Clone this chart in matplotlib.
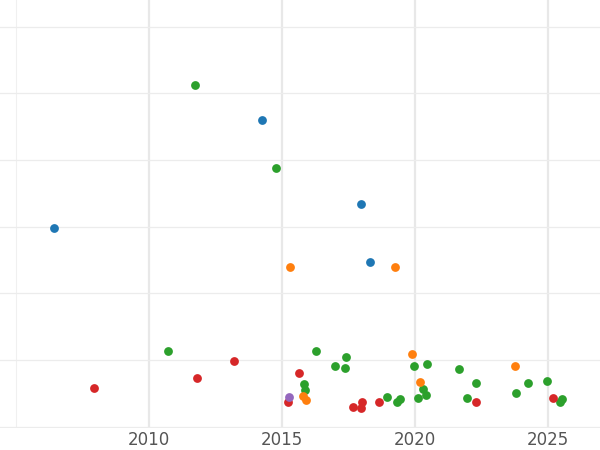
import matplotlib.pyplot as plt
from matplotlib.ticker import MultipleLocator

green_x = [2011.73, 2014.77, 2010.71, 2016.28, 2017.41, 2015.83, 2015.86, 2016.99, 2017.37, 2018.95,
           2019.32, 2019.44, 2019.96, 2020.45, 2020.30, 2020.11, 2020.41, 2021.65, 2022.29, 2021.95,
           2023.80, 2024.25, 2024.96, 2025.53, 2025.45]
green_y = [5.13, 3.88, 1.14, 1.14, 1.05, 0.64, 0.55, 0.91, 0.88, 0.45,
           0.37, 0.42, 0.91, 0.94, 0.57, 0.43, 0.48, 0.87, 0.66, 0.43,
           0.51, 0.66, 0.69, 0.42, 0.37]
blue_x = [2006.43, 2014.25, 2017.97, 2018.31]
blue_y = [2.98, 4.60, 3.34, 2.47]
orange_x = [2015.30, 2019.25, 2019.89, 2020.19, 2015.79, 2015.90, 2023.76]
orange_y = [2.40, 2.40, 1.09, 0.67, 0.46, 0.40, 0.91]
red_x = [2007.94, 2011.80, 2013.19, 2015.64, 2015.23, 2017.67, 2018.01, 2017.97, 2018.65, 2022.29, 2025.19]
red_y = [0.58, 0.73, 0.99, 0.81, 0.37, 0.30, 0.37, 0.28, 0.37, 0.37, 0.43]
purple_x = [2015.26]
purple_y = [0.45]

fig = plt.figure(figsize=(6, 4.5), dpi=100)
ax = fig.add_axes([0, 0.049, 1, 0.951])

for xs, ys, c in [(green_x, green_y, '#2ca02c'), (blue_x, blue_y, '#1f77b4'),
                  (orange_x, orange_y, '#ff7f0e'), (red_x, red_y, '#d62728'),
                  (purple_x, purple_y, '#9467bd')]:
    ax.scatter(xs, ys, s=40, color=c, zorder=3, linewidths=0)

ax.set_xlim(2004.4, 2026.95)
ax.set_ylim(-0.02, 6.4)
ax.set_xticks([2010, 2015, 2020, 2025])
ax.set_xticks([2005], minor=True)
ax.yaxis.set_major_locator(MultipleLocator(1))
ax.grid(True, which='major', axis='x', color='#e8e8e8', lw=1.6)
ax.grid(True, which='minor', axis='x', color='#f0f0f0', lw=0.8)
ax.grid(True, which='major', axis='y', color='#ececec', lw=0.9)
ax.set_axisbelow(True)
ax.tick_params(which='both', length=0)
ax.tick_params(labelsize=12, labelcolor='#555555', pad=2)
ax.tick_params(axis='y', labelleft=False)
for s in ax.spines.values():
    s.set_visible(False)

fig.savefig('out.png', dpi=100)
